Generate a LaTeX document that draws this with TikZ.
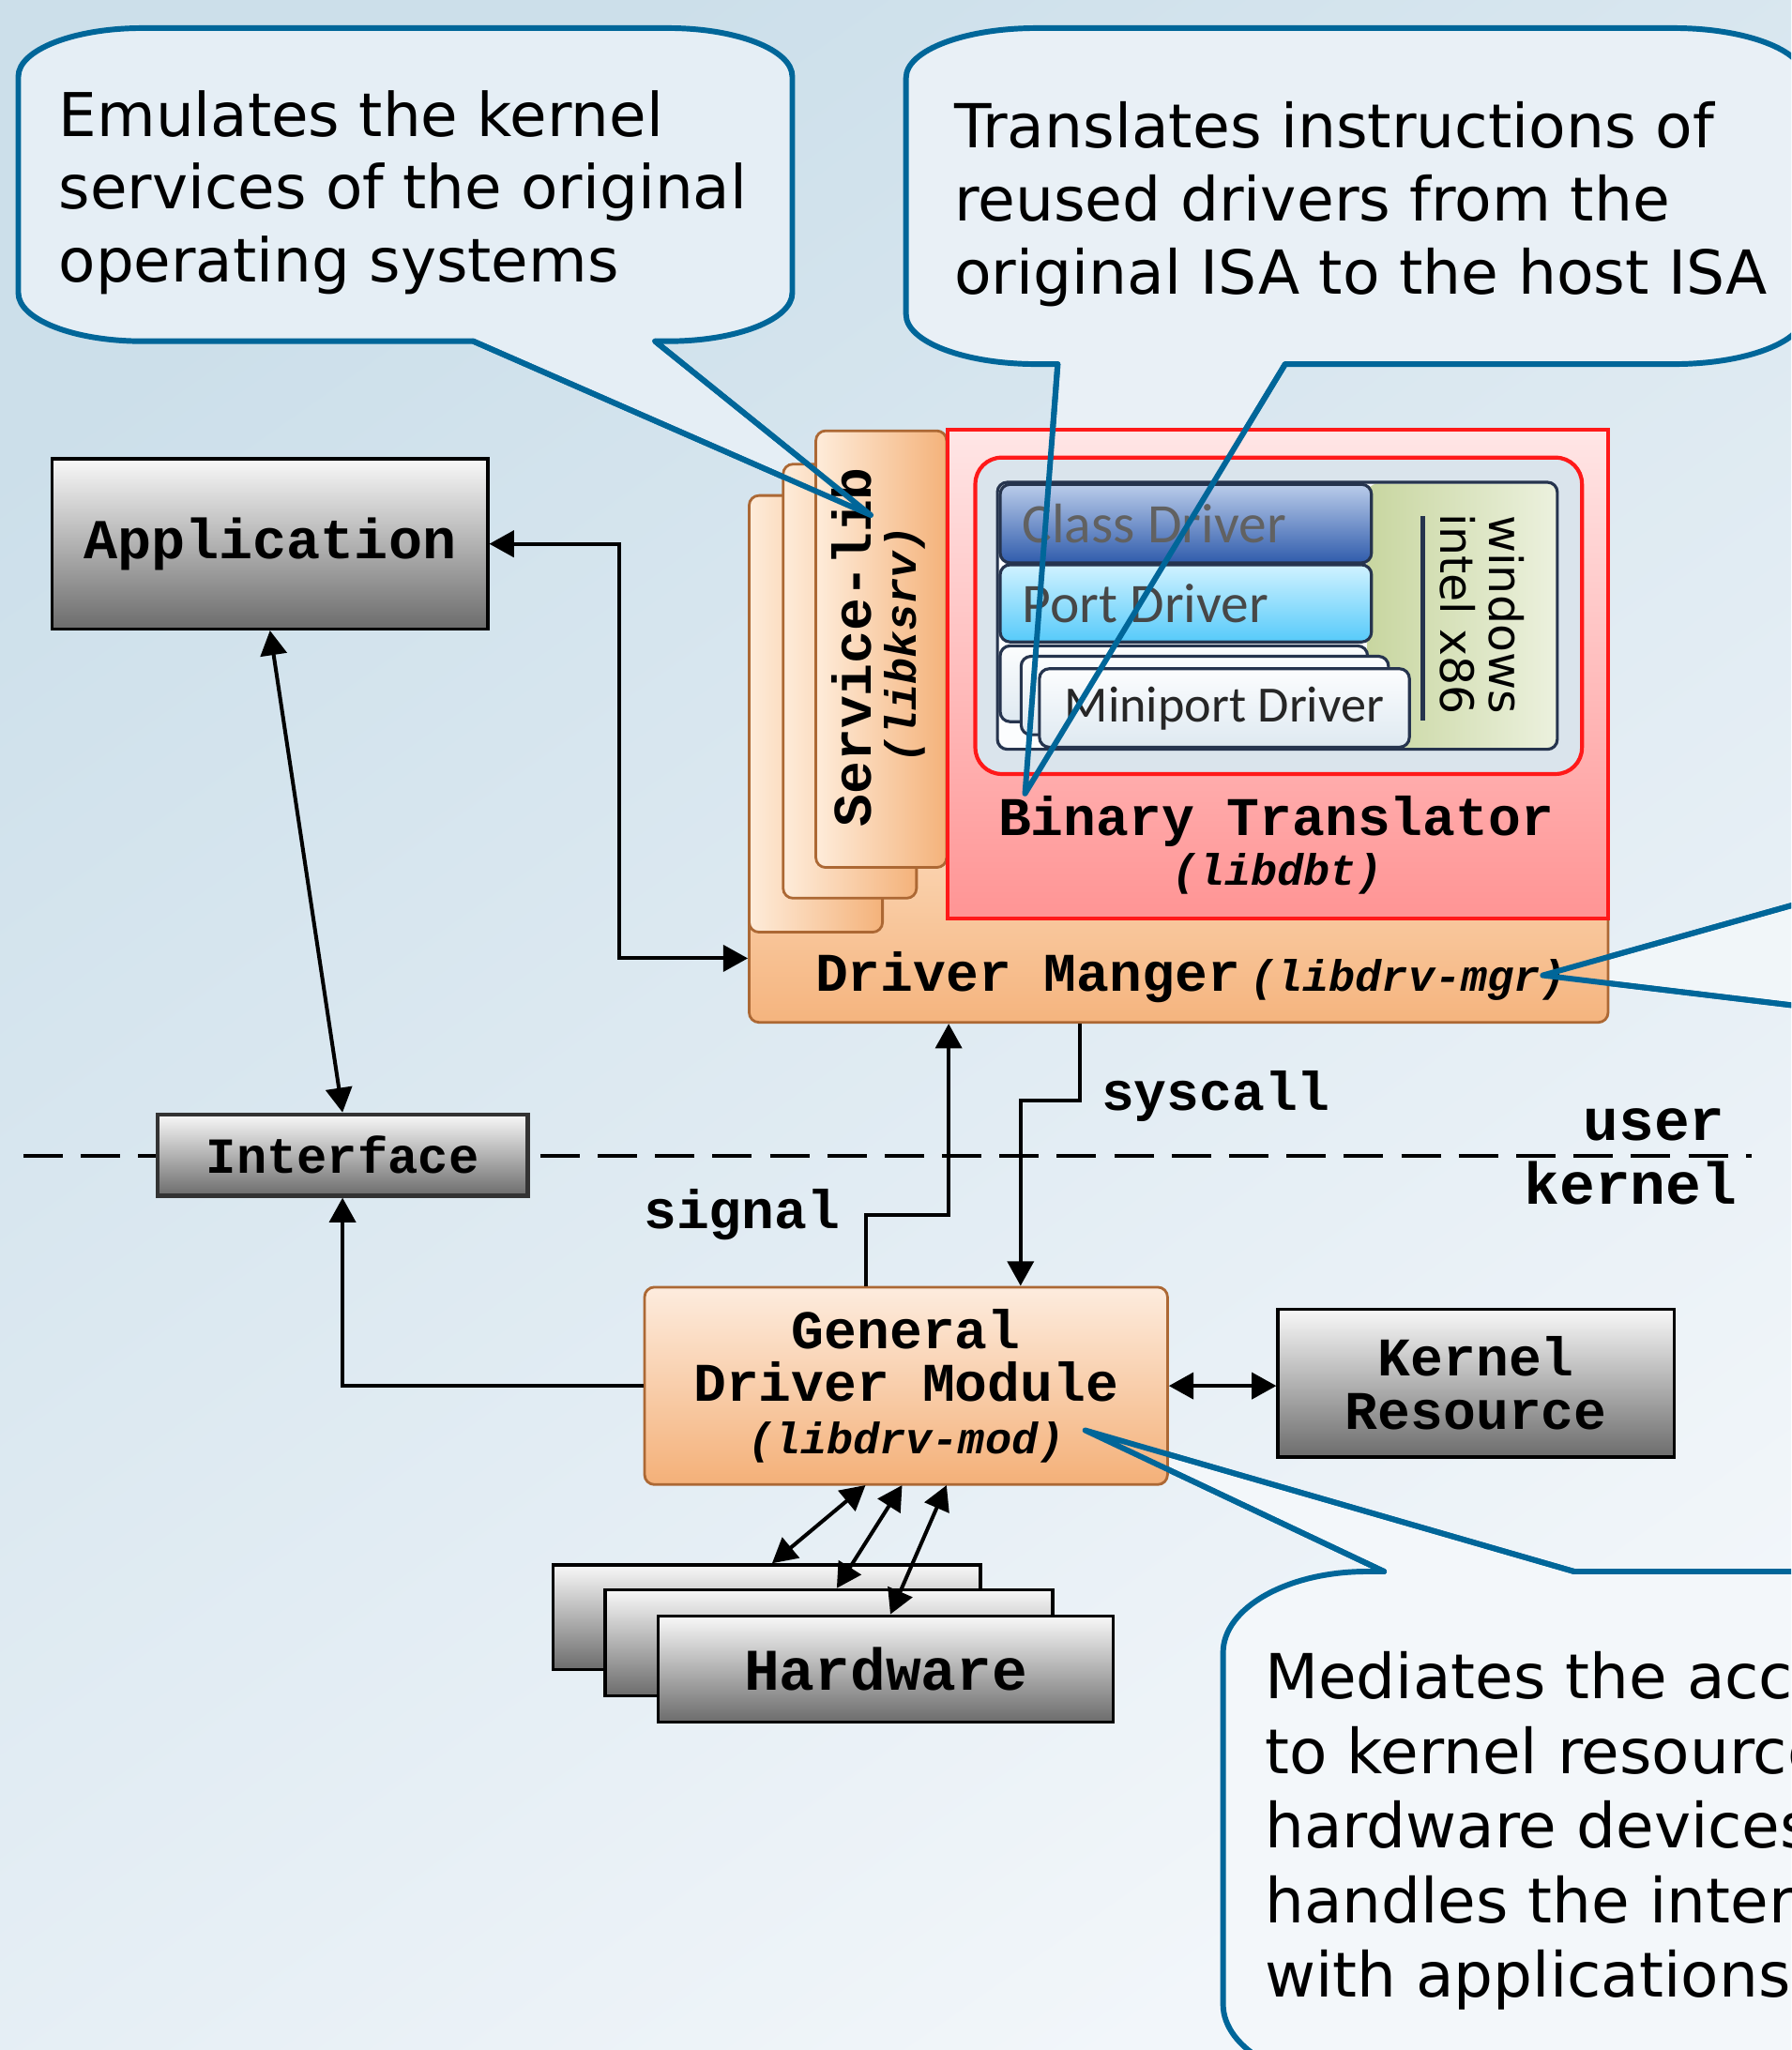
\documentclass[tikz,border=0pt]{standalone}
\usepackage{fontspec}
\setmainfont{DejaVu Sans}
\setmonofont{Liberation Mono}
\newfontfamily\carlito{Carlito}
\usetikzlibrary{positioning,arrows.meta}

\definecolor{bgA}{RGB}{204,223,234}
\definecolor{bgB}{RGB}{242,246,250}
\definecolor{callblue}{RGB}{0,102,153}
\definecolor{noteA}{RGB}{229,238,245}
\definecolor{noteB}{RGB}{233,240,246}
\definecolor{noteC}{RGB}{241,246,249}
\definecolor{noteD}{RGB}{243,247,250}
\definecolor{grayhi}{RGB}{248,248,248}
\definecolor{graylo}{RGB}{108,108,108}
\definecolor{orangeedge}{RGB}{172,104,52}
\definecolor{orangehi}{RGB}{253,236,222}
\definecolor{orangelo}{RGB}{244,176,120}
\definecolor{mgrhi}{RGB}{251,214,180}
\definecolor{mgrlo}{RGB}{245,180,126}
\definecolor{cardhi}{RGB}{254,236,218}
\definecolor{cardlo}{RGB}{244,178,122}
\definecolor{pinkhi}{RGB}{255,230,230}
\definecolor{pinklo}{RGB}{255,148,148}
\definecolor{redline}{RGB}{255,25,25}
\definecolor{btinner}{RGB}{218,228,236}
\definecolor{navyedge}{RGB}{38,52,78}
\definecolor{greenlo}{RGB}{200,214,160}
\definecolor{greenhi}{RGB}{236,241,222}
\definecolor{classhi}{RGB}{186,204,234}
\definecolor{classlo}{RGB}{48,92,172}
\definecolor{porthi}{RGB}{208,242,255}
\definecolor{portlo}{RGB}{86,202,250}
\definecolor{minihi}{RGB}{252,253,254}
\definecolor{minilo}{RGB}{222,233,241}

% fonts
\newcommand{\boxfont}{\fontsize{16.6}{16}\selectfont\ttfamily\bfseries}
\newcommand{\appfont}{\fontsize{17.2}{17}\selectfont\ttfamily\bfseries}
\newcommand{\libfont}{\fontsize{13.4}{14}\selectfont\ttfamily\bfseries\itshape}
\newcommand{\bigmono}{\fontsize{18}{18}\selectfont\ttfamily\bfseries}
\newcommand{\ifacefont}{\fontsize{15.4}{15.4}\selectfont\ttfamily\bfseries}
\newcommand{\kresfont}{\fontsize{16.6}{16.2}\selectfont\ttfamily\bfseries}
\newcommand{\drvlbl}{\carlito\fontsize{17}{17}\selectfont}
\newcommand{\minilbl}{\carlito\fontsize{15.5}{15.5}\selectfont}
\newcommand{\winfont}{\fontsize{14}{14}\selectfont}
\newcommand{\noteAfont}{\fontsize{18.4}{22.1}\selectfont}
\newcommand{\noteBfont}{\fontsize{18.5}{22.3}\selectfont}
\newcommand{\noteDfont}{\fontsize{18.9}{22.7}\selectfont}

\begin{document}
\begin{tikzpicture}[x=0.014cm, y=-0.014cm,
sz/.style 2 args={minimum width=#1*0.014cm, minimum height=#2*0.014cm},
graybox/.style={draw=black, line width=1pt, top color=grayhi, bottom color=graylo, inner sep=0pt, font=\boxfont},
orangebox/.style={draw=orangeedge, line width=0.8pt, rounded corners=3pt, top color=orangehi, bottom color=orangelo, inner sep=0pt},
card/.style={draw=orangeedge, line width=0.8pt, rounded corners=3pt, left color=cardhi, right color=cardlo, inner sep=0pt},
drvbox/.style={draw=navyedge, line width=0.9pt, rounded corners=3pt, inner sep=0pt},
drvtext/.style={font=\drvlbl, text=black!72, inner sep=0pt},
note/.style={fill=#1, draw=callblue, line width=1.7pt, line join=round},
ptr/.style={draw=callblue, line width=1.7pt, line join=round, line cap=round},
arr/.style={-{Triangle[length=7.5pt,width=8pt]}, line width=1.15pt},
dbl/.style={{Triangle[length=7.5pt,width=8pt]}-{Triangle[length=7.5pt,width=8pt]}, line width=1.15pt},
divider/.style={line width=1.15pt, dash pattern=on 12pt off 5.5pt},
lbl/.style={font=\boxfont, inner sep=0pt}
]
\useasboundingbox (0,0) rectangle (1370,1568);
\clip (0,0) rectangle (1370,1568);
\shade[top color=bgA, bottom color=bgB, shading angle=35] (0,0) rectangle (1370,1568);

% callouts (bodies)
\coordinate (c1a) at (362,261);
\coordinate (c1b) at (501,261);
\coordinate (c1tip) at (666,394);
\path[note=noteA] (c1b) -- (c1tip) -- (c1a) -- (109,261)
  .. controls (56.6,261) and (14,244.4) .. (14,224) -- (14,58.5)
  .. controls (14,38.1) and (56.6,21.5) .. (109,21.5) -- (511,21.5)
  .. controls (563.4,21.5) and (606,38.1) .. (606,58.5) -- (606,224)
  .. controls (606,244.4) and (563.4,261) .. (511,261) -- cycle;
\node[font=\noteAfont, align=left, anchor=north west, inner sep=0pt] (note1) at (44.5,69)
  {Emulates the kernel\\services of the original\\operating systems};

\coordinate (c2a) at (809,278.5);
\coordinate (c2b) at (983,278.5);
\coordinate (c2tip) at (784,607);
\path[note=noteB] (c2b) -- (c2tip) -- (c2a) -- (793,278.5)
  .. controls (737.8,278.5) and (693,261.5) .. (693,240.5) -- (693,59.5)
  .. controls (693,38.5) and (737.8,21.5) .. (793,21.5) -- (1280,21.5)
  .. controls (1335.2,21.5) and (1380,38.5) .. (1380,59.5) -- (1380,240.5)
  .. controls (1380,261.5) and (1335.2,278.5) .. (1280,278.5) -- cycle;
\node[font=\noteBfont, align=left, anchor=north west, inner sep=0pt] (note2) at (729.5,77.5)
  {Translates instructions of\\reused drivers from the\\original ISA to the host ISA};

\coordinate (c3a) at (1430,675.8);
\coordinate (c3b) at (1430,776);
\coordinate (c3tip) at (1180,746);
\path[note=noteC] (c3a) -- (c3tip) -- (c3b) -- cycle;

\coordinate (c4a) at (1058.6,1202);
\coordinate (c4b) at (1204,1202);
\coordinate (c4tip) at (830,1094);
\path[note=noteD] (c4b) -- (c4tip) -- (c4a) -- (1045.5,1202)
  .. controls (984.8,1202) and (935.5,1229.8) .. (935.5,1264) -- (935.5,1533)
  .. controls (935.5,1567.2) and (984.8,1595) .. (1045.5,1595) -- (1500,1595) -- (1500,1202) -- cycle;
\node[font=\noteDfont, align=left, anchor=north west, inner sep=0pt] (note4) at (967,1263)
  {Mediates the access\\to kernel resources and\\hardware devices, and\\handles the interaction\\with applications};

% user / kernel border
\coordinate (divL) at (18,884);
\coordinate (divR) at (1340,884);
\draw[divider] (divL) -- (divR);
\node[font=\bigmono, anchor=base east, inner sep=0pt] (userlbl) at (1320,872) {user};
\node[font=\bigmono, anchor=base east, inner sep=0pt] (kernellbl) at (1329,921) {kernel};

% user side
\node[graybox, sz={333}{130}, font=\appfont] (app) at (206.5,416) {Application};
\node[graybox, sz={283}{62}, draw=black!80, line width=1.3pt, font=\ifacefont] (iface) at (262,883.5) {Interface};

% driver manager with service-lib and binary translator
\node[orangebox, sz={657}{140}, top color=mgrhi, bottom color=mgrlo] (drvmgr) at (901.5,712) {};
\node[lbl, anchor=base] (mgrname) at (911,758) {Driver Manger\hspace{3pt}{\libfont(libdrv-mgr)}};
\node[card, sz={102}{334}] (srv3) at (624,546) {};
\node[card, sz={102}{332}] (srv2) at (650,521) {};
\node[card, sz={100}{334}] (srv1) at (674,496.5) {};
\node[lbl, rotate=90] (srvname) at (651.5,495) {Service-lib};
\node[font=\libfont, inner sep=0pt, rotate=90] (srvlib) at (692,493) {(libksrv)};

\node[draw=redline, line width=1.2pt, top color=pinkhi, bottom color=pinklo, inner sep=0pt, sz={505}{374}] (bt) at (977.5,515.5) {};
\node[draw=redline, line width=1.2pt, rounded corners=8pt, fill=btinner, inner sep=0pt, sz={464}{242}] (btin) at (978,471) {};
\node[drvbox, draw=none, fill=minihi, sz={426}{202}] (win) at (977,471) {};
\path[left color=greenlo, right color=greenhi, rounded corners=3pt] (1046,370) rectangle (win.south east);
\draw[navyedge, line width=0.9pt, rounded corners=3pt] (win.north west) rectangle (win.south east);
\draw[navyedge, line width=1.4pt] (1088,395) -- (1088,551);
\node[font=\winfont, inner sep=0pt, rotate=-90] (winname) at (1152,470) {windows};
\node[font=\winfont, inner sep=0pt, rotate=-90] (winisa) at (1115,470) {intel x86};

\node[drvbox, top color=classhi, bottom color=classlo, sz={284}{60}] (classdrv) at (907,400.5) {};
\node[drvtext, right=7pt of classdrv.west, text=black!62] (classlbl) {Class Driver};
\node[drvbox, top color=porthi, bottom color=portlo, sz={284}{59}] (portdrv) at (907,461.5) {};
\node[drvtext, right=7pt of portdrv.west] (portlbl) {Port Driver};
\node[drvbox, top color=minihi, bottom color=minilo, sz={281}{58}] (mini3) at (905.5,523) {};
\node[drvbox, top color=minihi, bottom color=minilo, sz={281}{60}] (mini2) at (921.5,532) {};
\node[drvbox, top color=minihi, bottom color=minilo, sz={283}{60}] (mini1) at (936.5,541.5) {};
\node[drvtext, font=\minilbl, text=black!85] (minilbl) at (936.5,542) {Miniport Driver};

\node[lbl, anchor=base] (btname) at (976,639) {Binary Translator};
\node[font=\libfont, inner sep=0pt, anchor=base] (btlib) at (977,677) {(libdbt)};

% kernel side
\node[orangebox, sz={400}{151}, align=center, font=\boxfont] (gdm) at (693,1060)
  {General\\Driver Module\\{\libfont(libdrv-mod)}};
\node[graybox, sz={303}{113}, align=center, font=\kresfont] (kres) at (1129,1058) {Kernel\\Resource};
\node[graybox, sz={327}{80}] (hw3) at (586.5,1237) {};
\node[graybox, sz={342}{81}] (hw2) at (634,1256.5) {};
\node[graybox, sz={348}{81}, font=\bigmono] (hw1) at (677.5,1276.5) {Hardware};

% connectors
\coordinate (appElbow) at (473.6,733);
\draw[dbl] (app.east) -| (appElbow) -- (drvmgr.west |- appElbow);
\draw[dbl] (app.south) -- (iface.north);
\draw[arr] (gdm.west) -| (iface.south);

\coordinate (sigA) at (662.5,929.5);
\coordinate (sigB) at (725.6,929.5);
\draw[arr] (gdm.north -| sigA) -- (sigA) -- (sigB) -- (drvmgr.south -| sigB);
\node[lbl, anchor=base east] (siglbl) at (643,940) {signal};

\coordinate (sysA) at (826,842);
\coordinate (sysB) at (780.6,842);
\draw[arr] (drvmgr.south -| sysA) -- (sysA) -- (sysB) -- (gdm.north -| sysB);
\node[lbl, anchor=base west] (syslbl) at (842,849) {syscall};

\draw[dbl] (gdm.east) -- (kres.west |- gdm.east);

\coordinate (hwA) at (662,1136);
\coordinate (hwB) at (690,1136);
\coordinate (hwC) at (724,1136);
\draw[dbl] (hwA) -- ([xshift=1.6pt]hw3.north);
\draw[dbl] (hwB) -- ([xshift=2.4pt]hw2.north);
\draw[dbl] (hwC) -- ([xshift=1.4pt]hw1.north);

% callout pointers over the boxes
\draw[ptr] (c1a) -- (c1tip) -- (c1b);
\draw[ptr] (c2a) -- (c2tip) -- (c2b);
\draw[ptr] (c3a) -- (c3tip) -- (c3b);
\draw[ptr] (c4a) -- (c4tip) -- (c4b);
\end{tikzpicture}
\end{document}
